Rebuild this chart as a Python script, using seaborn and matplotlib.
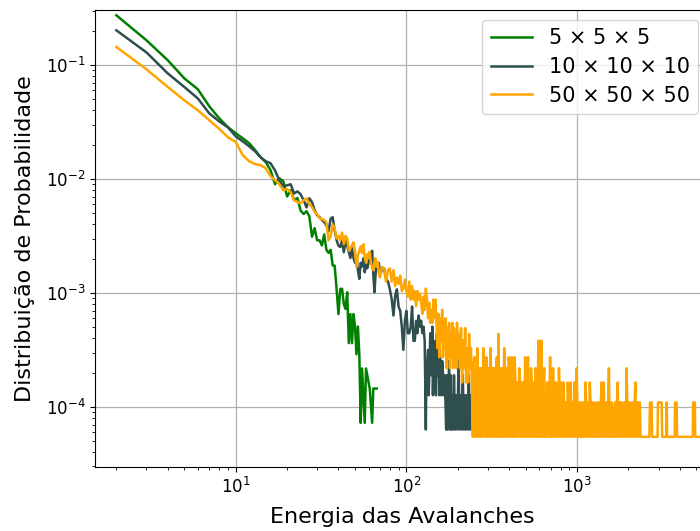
import pandas as pd
import matplotlib
matplotlib.use("Agg")
import matplotlib.pyplot as plt
import seaborn as sns

# Avalanche energy histograms (energy -> number of events), one per lattice size.
# Zero-count energies are not listed (they cannot be shown on a log axis).
labels = ["5 × 5 × 5", "10 × 10 × 10", "50 × 50 × 50"]
colors = ["green", "darkslategray", "orange"]

green_total = 13800
green_E = [2, 3, 4, 5, 6, 7, 8, 9, 10, 11, 12, 13, 14, 15, 16, 17, 18, 19, 20,
           21, 22, 23, 24, 25, 26, 27, 28, 29, 30, 31, 32, 33, 34, 35, 36, 37,
           38, 39, 40, 41, 42, 43, 44, 45, 46, 47, 48, 49, 50, 51, 52, 53,
           54, 55, 57, 58, 61, 63, 64, 67]
green_n = [3770, 2275, 1520, 1055, 846, 600, 471, 393, 348, 314, 284, 247, 214,
           194, 165, 124, 140, 132, 97, 110, 90, 94, 73, 68, 72, 65, 43, 51, 40,
           40, 36, 45, 33, 31, 33, 24, 24, 15, 9, 15, 15, 11, 10, 14, 5, 9, 5, 9,
           7, 4, 7, 4, 1, 3, 1, 3, 2, 1, 2, 2]

dark_total = 15800
dark_E = [2, 3, 4, 5, 6, 7, 8, 9, 10, 11, 12, 13, 14, 15, 16, 17, 18, 19, 20,
          21, 22, 23, 24, 25, 26, 27, 28, 29, 30, 31, 32, 33, 34, 35, 36, 37,
          38, 39, 40, 41, 42, 43, 44, 45, 46, 47, 48, 49, 50, 51, 52, 53, 54,
          55, 56, 57, 58, 59, 60, 61, 62, 63, 64, 65, 66, 67, 68, 69, 70,
          72, 74, 76, 78, 80, 82, 84, 86, 88, 90, 92, 94, 96, 98, 100, 102,
          104, 106, 108, 110, 112, 114, 116, 118, 120, 122, 124, 126,
          128, 130, 131, 132, 134, 135, 137, 138, 140, 142, 143, 145, 146,
          148, 149, 151, 152, 154, 156, 157, 159, 161, 162, 164, 166, 167,
          169, 171, 172, 174, 176, 178, 180, 182, 184, 186, 188, 190, 193,
          196, 199, 202, 205, 208, 211, 214, 217, 220, 223, 226, 229, 232,
          235, 238, 241, 244, 247, 250, 254, 258, 262, 266, 270, 274, 278,
          283, 288, 293, 298, 303, 308, 314, 320, 326, 332]
dark_n = [3185, 2040, 1334, 1014, 805, 595, 506, 449, 374, 338, 306, 276, 245,
          226, 217, 188, 154, 136, 139, 142, 118, 123, 116, 103, 89, 107, 99,
          84, 76, 73, 69, 66, 62, 55, 71, 73, 56, 46, 41, 40, 46, 36, 46, 41,
          36, 32, 39, 32, 29, 33, 25, 21, 29, 27, 32, 24, 28, 26, 29, 36, 32,
          37, 23, 16, 23, 28, 26, 29, 23,
          25, 26, 21, 20, 17, 14, 10, 15, 17, 12, 11, 8, 5, 9, 11, 7,
          7, 8, 12, 6, 6, 9, 7, 10, 8, 9, 7, 8,
          6, 1, 4, 3, 5, 2, 4, 7, 3, 8, 2, 6, 3,
          4, 2, 7, 3, 6, 2, 5, 3, 2, 4, 3, 2, 3,
          2, 1, 3, 1, 2, 4, 1, 3, 1, 2, 1, 3, 1,
          2, 1, 4, 1, 2, 1, 3, 1, 2, 1, 2, 1, 3,
          1, 2, 1, 2, 1, 2, 1, 2, 1, 2, 1, 2, 1,
          2, 1, 2, 1, 2, 1, 1, 2, 1, 1]

orange_total = 18300
orange_E = [2, 3, 4, 5, 6, 7, 8, 9, 10, 11, 12, 13, 14, 15, 16, 17, 18, 19, 20,
            21, 22, 23, 24, 25, 26, 27, 28, 29, 30, 31, 32, 33, 34, 35, 36, 37,
            38, 39, 40, 41, 42, 43, 44, 45, 46, 47, 48, 49, 50, 51, 52, 53, 54,
            55, 56, 57, 58, 59, 60, 61, 62, 63, 64, 65, 66, 67, 68, 69, 70,
            72, 74, 76, 78, 80, 82, 84, 86, 88, 90, 92, 94, 96, 98, 100, 102,
            104, 106, 108, 110, 112, 114, 116, 118, 120, 122, 124, 126, 128,
            130, 132, 134, 136, 138, 140, 142, 144, 146, 148, 150,
            152, 154, 156, 158, 160, 162, 164, 166, 168, 170, 172, 174, 176,
            178, 180, 182, 184, 186, 188, 190, 192, 194, 196, 198, 200, 203,
            206, 209, 212, 215, 218, 221, 224, 227, 230, 233, 236, 239, 242,
            245, 250, 255, 260, 265, 270, 276, 282, 288, 294, 300, 306, 312,
            318, 325, 332, 339, 346, 353, 360, 367, 374, 382, 390, 398, 406,
            414, 422, 431, 440, 449, 458, 467, 476, 486, 496, 506, 516, 526,
            537, 548, 559, 570, 581, 593, 605, 617, 629, 642, 655, 668, 681,
            695, 709, 723, 738, 753, 768, 783, 799, 815, 831, 848, 865, 882,
            900, 918, 936, 955, 974, 993, 1013, 1033, 1054, 1075, 1097, 1119,
            1141, 1164, 1187, 1211, 1235, 1260, 1285, 1311, 1337, 1364, 1391,
            1419, 1447, 1476, 1506, 1536, 1567, 1598, 1630, 1663, 1696, 1730,
            1765, 1800, 1836, 1873, 1910, 1948, 1987, 2027, 2068, 2109, 2151,
            2194, 2238, 2283, 2329, 2375, 2400, 2650, 2672, 2733, 2750, 2960,
            2978, 3131, 3150, 3330, 3350, 3370, 3730, 3747, 3830, 3850, 4760,
            4779, 4900, 4920, 6000]
orange_n = [2637, 1680, 1175, 897, 734, 600, 505, 425, 387, 296, 262, 247, 242,
            227, 194, 179, 165, 146, 149, 140, 119, 115, 112, 119, 124, 110,
            104, 94, 90, 83, 81, 80, 76, 53, 58, 73, 68, 55, 58, 53, 62, 49, 58,
            55, 43, 45, 48, 51, 43, 31, 39, 43, 47, 41, 49, 37, 34, 40, 37, 42,
            34, 30, 29, 34, 37, 31, 34, 27, 25,
            31, 30, 23, 29, 30, 23, 29, 21, 25, 22, 26, 19, 20, 24, 19, 17,
            23, 16, 21, 16, 19, 14, 19, 16, 18, 15, 12, 17, 13,
            20, 16, 11, 15, 10, 13, 10, 16, 11, 16, 10,
            6, 12, 5, 11, 7, 13, 5, 10, 6, 11, 4, 9, 5,
            10, 4, 8, 5, 10, 4, 9, 5, 7, 4, 10, 5, 8,
            4, 9, 3, 7, 4, 9, 3, 6, 3, 8, 4, 6, 3,
            1, 5, 4, 6, 1, 4, 4, 6, 1, 5, 4, 1, 6,
            4, 4, 1, 5, 8, 4, 1, 4, 6, 1, 4, 5, 1,
            5, 3, 5, 1, 3, 4, 1, 3, 3, 5, 1, 5, 3,
            4, 1, 3, 4, 1, 7, 2, 7, 1, 4, 2, 3, 1,
            5, 2, 4, 1, 3, 2, 4, 1, 2, 3, 1, 2, 3,
            1, 3, 2, 1, 2, 4, 1, 2, 2, 1, 2, 3,
            1, 2, 3, 1, 2, 1, 2, 1, 2, 1, 3,
            2, 1, 2, 1, 4, 1, 2, 1, 2, 1, 3,
            2, 1, 2, 1, 2, 4, 1, 2, 1, 2, 1,
            3, 2, 1, 2, 1, 1, 1, 2, 2, 1, 1,
            2, 2, 1, 1, 2, 1, 1, 2, 2, 1, 1,
            2, 2, 1, 1]

# extra non-empty bins of the 50x50x50 tail (dense part, E ~ 250-2400)
orange_tail_E = [247, 252, 257, 262, 267, 273, 279, 285, 291, 297, 303, 309,
                 315, 321, 328, 335, 342, 349, 356, 363, 370, 378, 386, 394,
                 402, 410, 418, 426, 435, 444, 453, 462, 471, 481, 491, 501,
                 511, 521, 531, 542, 553, 564, 575, 587, 599, 611, 623, 635,
                 648, 661, 674, 688, 702, 716, 730, 745, 760, 775, 791, 807,
                 823, 839, 856, 873, 891, 909, 927, 945, 964, 983, 1003, 1023,
                 1043, 1064, 1086, 1108, 1130, 1152, 1175, 1199, 1223, 1247,
                 1272, 1298, 1324, 1350, 1377, 1405, 1433, 1461, 1491, 1521,
                 1551, 1582, 1614, 1646, 1679, 1713, 1747, 1782, 1818, 1854,
                 1891, 1929, 1967, 2007, 2047, 2088, 2130, 2172, 2216, 2260,
                 2306, 2352]
orange_tail_n = [4, 1, 1, 3, 4, 1, 1, 4, 3, 1, 4, 4,
                 1, 1, 3, 4, 1, 1, 4, 4, 1, 4, 4, 1,
                 3, 4, 1, 1, 3, 3, 1, 3, 3, 1, 1, 3,
                 3, 1, 1, 3, 3, 1, 3, 2, 1, 1, 2, 3,
                 1, 1, 2, 2, 1, 1, 2, 2, 1, 1, 2, 3,
                 1, 2, 2, 1, 2, 2, 1, 2, 3, 1, 2, 2,
                 1, 1, 2, 1, 2, 2, 1, 2, 2, 1,
                 2, 1, 2, 1, 2, 1, 3, 2, 1, 2,
                 1, 2, 1, 1, 2, 2, 1, 2, 2, 1,
                 2, 1, 2, 2, 1, 2, 1, 2, 1, 2,
                 2, 1]


def to_frame(E, n, total):
    """Turn a histogram into a probability table sorted by energy."""
    df = pd.DataFrame({"energia": E, "prob": [c / total for c in n]})
    return df.sort_values("energia")


series = [to_frame(green_E, green_n, green_total),
          to_frame(dark_E, dark_n, dark_total),
          to_frame(orange_E + orange_tail_E, orange_n + orange_tail_n,
                   orange_total)]

fig = plt.figure(figsize=(7, 5.31), dpi=100)
ax = fig.add_axes([0.1364, 0.1196, 0.876, 0.8625])

for df, lab, col in zip(series, labels, colors):
    sns.lineplot(data=df, x="energia", y="prob", color=col, label=lab,
                 linewidth=1.8, estimator=None, sort=False, ax=ax)

ax.set_xscale("log")
ax.set_yscale("log")
ax.set_xlim(1.509, 5900)
ax.set_ylim(2.94e-5, 0.307)
ax.grid(True, which="major", color="#b0b0b0", linewidth=0.9)
ax.tick_params(labelsize=12)
ax.set_xlabel("Energia das Avalanches", fontsize=16, labelpad=7)
ax.set_ylabel("Distribuição de Probabilidade", fontsize=16, labelpad=8)
ax.legend(loc="upper right", fontsize=15, labelspacing=0.42)

fig.savefig("out.png", dpi=100)
